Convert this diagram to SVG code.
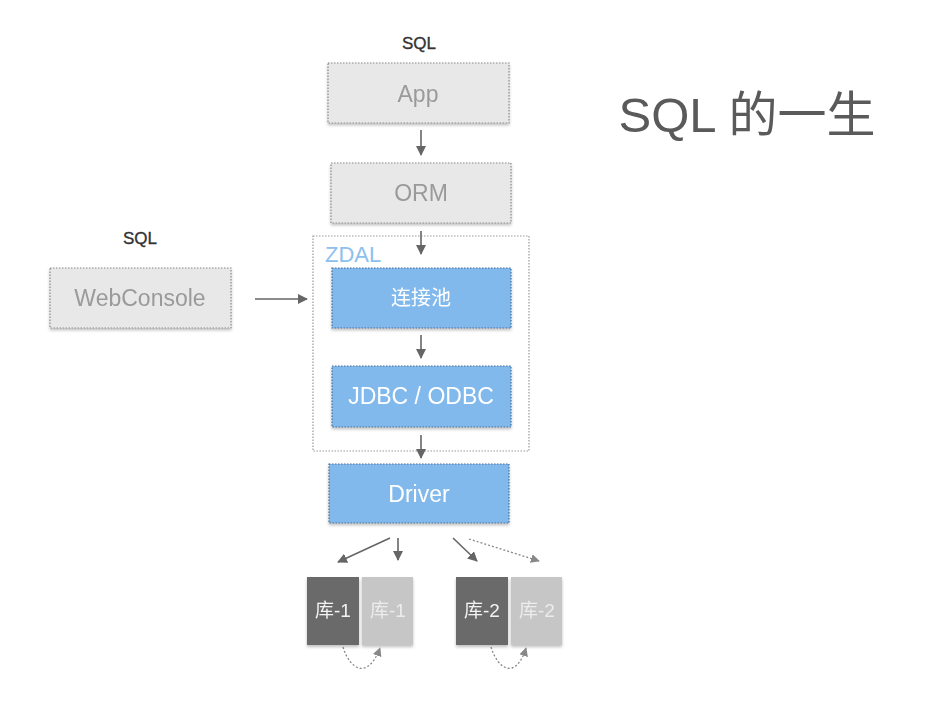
<svg xmlns="http://www.w3.org/2000/svg" width="932" height="704" viewBox="0 0 932 704">
<style>
text{font-family:"Liberation Sans","Noto Sans CJK SC",sans-serif;text-anchor:middle}
.gbox{fill:#e8e8e8;stroke:#8a8a8a;stroke-width:1.2;stroke-dasharray:1.5 1.5}
.bbox{fill:#82b9ec;stroke:#4a6e95;stroke-width:1.2;stroke-dasharray:1.5 1.5}
.gt{font-size:23px;fill:#9a9a9a}
.bt{font-size:23px;fill:#ffffff}
.sql{font-size:17px;fill:#333;stroke:#333;stroke-width:0.35}
.db{font-size:19px}
.ln{stroke:#666;stroke-width:1.6;fill:none}
.dl{stroke:#888;stroke-width:1.3;fill:none;stroke-dasharray:2 2}
</style>
<defs>
<marker id="ah" viewBox="0 0 10 10" refX="9" refY="5" markerWidth="10" markerHeight="10" markerUnits="userSpaceOnUse" orient="auto">
<path d="M0,0 L10,5 L0,10 z" fill="#666"/>
</marker>
<marker id="ahl" viewBox="0 0 10 10" refX="9" refY="5" markerWidth="9" markerHeight="9" markerUnits="userSpaceOnUse" orient="auto">
<path d="M0,0 L10,5 L0,10 z" fill="#888"/>
</marker>
<filter id="sh" x="-10%" y="-10%" width="120%" height="130%">
<feDropShadow dx="0" dy="2" stdDeviation="1.5" flood-color="#000" flood-opacity="0.25"/>
</filter>
</defs>

<g id="title"><text x="747" y="132" style="font-size:49px;fill:#5a5a5a">SQL 的一生</text></g>

<g id="sql-top"><text x="419" y="49" class="sql">SQL</text></g>
<g id="sql-left"><text x="140" y="244" class="sql">SQL</text></g>

<g id="zdal">
<rect x="313" y="236" width="216" height="215" fill="none" stroke="#999" stroke-width="1.2" stroke-dasharray="1.5 1.5"/>
<text x="325" y="262" style="font-size:22px;fill:#8cc0ee;text-anchor:start">ZDAL</text>
</g>

<g id="app" filter="url(#sh)"><rect class="gbox" x="328" y="63" width="181" height="60"/><text x="418" y="102" class="gt">App</text></g>
<g id="orm" filter="url(#sh)"><rect class="gbox" x="331" y="163" width="180" height="60"/><text x="421" y="201" class="gt">ORM</text></g>
<g id="webconsole" filter="url(#sh)"><rect class="gbox" x="50" y="268" width="181" height="60"/><text x="140" y="306" class="gt">WebConsole</text></g>
<g id="pool" filter="url(#sh)"><rect class="bbox" x="332" y="268" width="179" height="60"/><text x="421" y="305" class="bt" style="font-size:20px">连接池</text></g>
<g id="jdbc" filter="url(#sh)"><rect class="bbox" x="332" y="366" width="179" height="61"/><text x="421" y="404" class="bt">JDBC / ODBC</text></g>
<g id="driver" filter="url(#sh)"><rect class="bbox" x="329" y="464" width="180" height="59"/><text x="419" y="502" class="bt">Driver</text></g>

<g id="db1a" filter="url(#sh)"><rect x="307" y="577" width="52" height="68" fill="#6b6b6b"/><text x="333" y="617" class="db" fill="#f2f2f2">库-1</text></g>
<g id="db1b" filter="url(#sh)"><rect x="362" y="577" width="51" height="68" fill="#c6c6c6"/><text x="388" y="617" class="db" fill="#ececec">库-1</text></g>
<g id="db2a" filter="url(#sh)"><rect x="456" y="577" width="52" height="68" fill="#6b6b6b"/><text x="482" y="617" class="db" fill="#f2f2f2">库-2</text></g>
<g id="db2b" filter="url(#sh)"><rect x="511" y="577" width="51" height="68" fill="#c6c6c6"/><text x="537" y="617" class="db" fill="#ececec">库-2</text></g>

<g id="connectors">
<line class="ln" x1="421" y1="130" x2="421" y2="155" marker-end="url(#ah)"/>
<line class="ln" x1="421" y1="231" x2="421" y2="254" marker-end="url(#ah)"/>
<line class="ln" x1="421" y1="335" x2="421" y2="358" marker-end="url(#ah)"/>
<line class="ln" x1="421" y1="435" x2="421" y2="458" marker-end="url(#ah)"/>
<line class="ln" x1="255" y1="299" x2="307" y2="299" marker-end="url(#ah)"/>
<line class="ln" x1="390" y1="538" x2="338" y2="562" marker-end="url(#ah)"/>
<line class="ln" x1="398" y1="538" x2="398" y2="560" marker-end="url(#ah)"/>
<line class="ln" x1="453" y1="538" x2="477" y2="561" marker-end="url(#ah)"/>
<line class="dl" x1="469" y1="539" x2="539" y2="561" marker-end="url(#ahl)"/>
<path class="dl" d="M343,647 C350,670 368,680 380,648" marker-end="url(#ahl)"/>
<path class="dl" d="M491,647 C498,670 516,680 526,648" marker-end="url(#ahl)"/>
</g>
</svg>
